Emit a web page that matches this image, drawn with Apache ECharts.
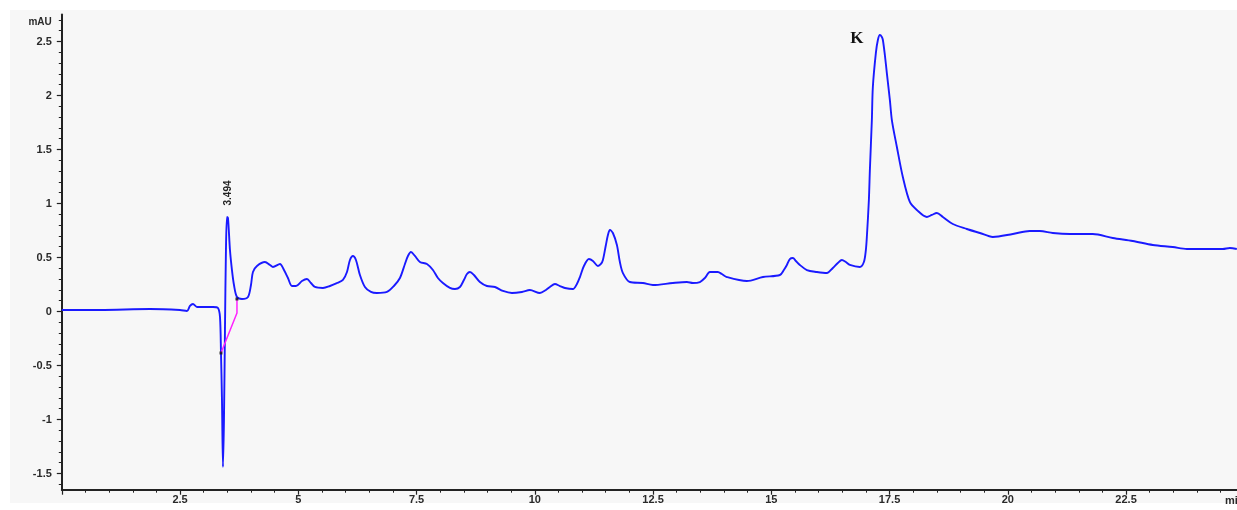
<!DOCTYPE html>
<html>
<head>
<meta charset="utf-8">
<script src="https://cdn.jsdelivr.net/npm/echarts@6/dist/echarts.min.js"></script>
<style>
html,body{margin:0;padding:0;background:#ffffff;}
#c{width:1237px;height:510px;}
</style>
</head>
<body>
<div id="c"></div>
<script>
// ---- data (time in min, absorbance in mAU) ----
var times = [0.0,0.808,1.865,2.499,2.647,2.710,2.774,2.858,3.027,3.197,3.302,3.345,3.366,3.387,3.408,3.429,3.450,3.471,3.493,3.514,3.556,3.598,3.641,3.704,3.810,3.937,4.000,4.042,4.127,4.296,4.402,4.465,4.613,4.698,4.782,4.867,4.951,5.078,5.184,5.268,5.353,5.522,5.670,5.818,5.945,6.030,6.093,6.156,6.220,6.304,6.410,6.537,6.664,6.875,7.023,7.150,7.256,7.319,7.383,7.467,7.573,7.721,7.848,7.953,8.059,8.207,8.313,8.419,8.503,8.567,8.630,8.715,8.841,8.989,9.159,9.328,9.518,9.729,9.898,10.110,10.237,10.321,10.427,10.533,10.638,10.808,10.892,10.956,11.040,11.146,11.231,11.336,11.400,11.442,11.505,11.548,11.590,11.653,11.738,11.801,11.865,12.013,12.288,12.499,12.922,13.218,13.345,13.493,13.598,13.704,13.873,13.958,14.063,14.486,14.825,15.184,15.268,15.332,15.395,15.459,15.522,15.607,15.755,15.966,16.178,16.304,16.410,16.495,16.579,16.664,16.875,16.960,17.002,17.023,17.066,17.087,17.129,17.150,17.214,17.256,17.298,17.340,17.362,17.404,17.446,17.510,17.552,17.658,17.784,17.932,18.080,18.292,18.397,18.503,18.630,18.841,19.137,19.412,19.687,20.110,20.469,20.681,20.956,21.315,21.801,22.224,22.647,23.070,23.493,23.789,24.338,24.550,24.698,24.846];
var mau = [0.014,0.014,0.023,0.014,0.005,0.051,0.069,0.042,0.042,0.042,0.032,-0.051,-0.384,-0.819,-1.440,-1.005,-0.171,0.569,0.875,0.866,0.569,0.384,0.245,0.134,0.116,0.134,0.245,0.366,0.421,0.458,0.431,0.412,0.440,0.384,0.310,0.236,0.236,0.282,0.301,0.264,0.227,0.218,0.236,0.264,0.292,0.366,0.477,0.514,0.477,0.338,0.227,0.181,0.171,0.181,0.236,0.310,0.440,0.514,0.551,0.514,0.458,0.440,0.384,0.310,0.264,0.218,0.208,0.227,0.292,0.347,0.366,0.338,0.273,0.236,0.227,0.190,0.171,0.181,0.199,0.171,0.199,0.227,0.255,0.236,0.218,0.208,0.255,0.319,0.421,0.486,0.468,0.421,0.440,0.477,0.616,0.708,0.755,0.727,0.616,0.458,0.356,0.273,0.264,0.245,0.264,0.273,0.264,0.273,0.310,0.366,0.366,0.347,0.319,0.282,0.319,0.338,0.384,0.431,0.486,0.495,0.468,0.431,0.384,0.366,0.356,0.403,0.449,0.477,0.458,0.431,0.412,0.458,0.569,0.690,1.032,1.310,1.773,2.079,2.394,2.514,2.560,2.542,2.514,2.375,2.208,1.958,1.773,1.523,1.245,1.014,0.940,0.875,0.894,0.912,0.875,0.810,0.764,0.727,0.690,0.718,0.745,0.745,0.727,0.718,0.718,0.681,0.653,0.616,0.597,0.579,0.579,0.579,0.588,0.579];
var baselineTimes = [3.366, 3.704, 3.704];
var baselineValues = [-0.384, -0.014, 0.116];
var markerTimes = [3.366, 3.704];
var markerValues = [-0.384, 0.116];
var peakLabel = {time: 3.494, value: 0.875, text: '3.494'};
var peakK = {time: 17.298, value: 2.560, text: 'K'};
var xTickLabels = ['2.5','5','7.5','10','12.5','15','17.5','20','22.5'];
var yTickLabels = ['-1.5','-1','-0.5','0','0.5','1','1.5','2','2.5'];
var yUnit = 'mAU';
var xUnit = 'mi';

function pairs(a, b) { var r = []; for (var i = 0; i < a.length; i++) r.push([a[i], b[i]]); return r; }
function labelFor(list, v) {
  for (var i = 0; i < list.length; i++) if (Math.abs(parseFloat(list[i]) - v) < 1e-6) return list[i];
  return '';
}

// geometry
var PX_MIN = 47.3, PX_UNIT = 108, X0 = 61.8, Y0 = 311.5;
function gridFor(xmax, ymin, ymax) {
  return { left: X0, top: Y0 - ymax * PX_UNIT, width: xmax * PX_MIN, height: (ymax - ymin) * PX_UNIT };
}
var gMain = gridFor(24.85, -1.65, 2.75);
var gMinor = gridFor(24.5, -1.6, 2.7);
var gMajor = gridFor(22.5, -1.5, 2.5);
var axisBottom = gMain.top + gMain.height;

var lblFont = { color: '#2a2a2a', fontSize: 11, fontWeight: 'bold', fontFamily: 'Liberation Sans, Arial, sans-serif' };

var chart = echarts.init(document.getElementById('c'), null, { renderer: 'canvas' });
var option = {
  animation: false,
  backgroundColor: '#ffffff',
  grid: [gMain, gMinor, gMajor],
  xAxis: [
    { gridIndex: 0, type: 'value', min: 0, max: 24.85, axisLine: { show: true, onZero: false, lineStyle: { color: '#222', width: 2 } }, axisTick: { show: false }, axisLabel: { show: false }, splitLine: { show: false } },
    { gridIndex: 1, type: 'value', min: 0, max: 24.5, interval: 0.5, offset: axisBottom - (gMinor.top + gMinor.height), axisLine: { show: false, onZero: false }, axisTick: { show: true, length: 3, lineStyle: { color: '#222', width: 1 } }, axisLabel: { show: false }, splitLine: { show: false } },
    { gridIndex: 2, type: 'value', min: 0, max: 22.5, interval: 2.5, offset: axisBottom - (gMajor.top + gMajor.height), axisLine: { show: false, onZero: false }, axisTick: { show: true, length: 5, lineStyle: { color: '#222', width: 1.2 } },
      axisLabel: Object.assign({ show: true, margin: 5, formatter: function (v) { return labelFor(xTickLabels, v); } }, lblFont), splitLine: { show: false } }
  ],
  yAxis: [
    { gridIndex: 0, type: 'value', min: -1.65, max: 2.75, axisLine: { show: true, onZero: false, lineStyle: { color: '#222', width: 2 } }, axisTick: { show: false }, axisLabel: { show: false }, splitLine: { show: false } },
    { gridIndex: 1, type: 'value', min: -1.6, max: 2.7, interval: 0.1, axisLine: { show: false, onZero: false }, axisTick: { show: true, length: 3, lineStyle: { color: '#222', width: 1 } }, axisLabel: { show: false }, splitLine: { show: false } },
    { gridIndex: 2, type: 'value', min: -1.5, max: 2.5, interval: 0.5, axisLine: { show: false, onZero: false }, axisTick: { show: true, length: 5, lineStyle: { color: '#222', width: 1.2 } },
      axisLabel: Object.assign({ show: true, margin: 10, formatter: function (v) { return labelFor(yTickLabels, v); } }, lblFont), splitLine: { show: false } }
  ],
  series: [
    { type: 'line', xAxisIndex: 0, yAxisIndex: 0, data: pairs(times, mau), showSymbol: false, symbol: 'none', smooth: 0.3, lineStyle: { color: '#1a1aff', width: 1.9 }, z: 3 },
    { type: 'line', xAxisIndex: 0, yAxisIndex: 0, data: pairs(baselineTimes, baselineValues), showSymbol: false, symbol: 'none', lineStyle: { color: '#ff22ff', width: 1.5 }, z: 4 },
    { type: 'scatter', xAxisIndex: 0, yAxisIndex: 0, data: pairs(markerTimes, markerValues), symbol: 'rect', symbolSize: 3, itemStyle: { color: '#111' }, z: 5 }
  ]
};
chart.setOption(option);

var p1 = chart.convertToPixel({ xAxisIndex: 0, yAxisIndex: 0 }, [peakLabel.time, peakLabel.value]);
var p2 = chart.convertToPixel({ xAxisIndex: 0, yAxisIndex: 0 }, [peakK.time, peakK.value]);
var axisOrigin = chart.convertToPixel({ xAxisIndex: 0, yAxisIndex: 0 }, [0, 2.75]);
var axisEnd = chart.convertToPixel({ xAxisIndex: 0, yAxisIndex: 0 }, [24.85, -1.65]);
chart.setOption({
  graphic: [
    { type: 'rect', z: -10, shape: { x: 10, y: 10, width: 1227, height: 493 }, style: { fill: '#f7f7f7' } },
    { type: 'text', x: p1[0] + 1, y: p1[1] - 24, rotation: Math.PI / 2, style: { text: peakLabel.text, align: 'center', verticalAlign: 'middle', fill: '#222', font: 'bold 10px "Liberation Sans", Arial, sans-serif' } },
    { type: 'text', x: p2[0] - 23, y: p2[1] + 4, style: { text: peakK.text, align: 'center', verticalAlign: 'middle', fill: '#111', font: 'bold 17px "Liberation Serif", "Times New Roman", serif' } },
    { type: 'text', x: axisOrigin[0] - 10, y: axisOrigin[1] + 8, style: { text: yUnit, align: 'right', verticalAlign: 'middle', fill: '#2a2a2a', font: 'bold 10px "Liberation Sans", Arial, sans-serif' } },
    { type: 'text', x: axisEnd[0] - 12, y: axisEnd[1] + 11, style: { text: xUnit, align: 'left', verticalAlign: 'middle', fill: '#2a2a2a', font: 'bold 11px "Liberation Sans", Arial, sans-serif' } }
  ]
});
</script>
</body>
</html>
